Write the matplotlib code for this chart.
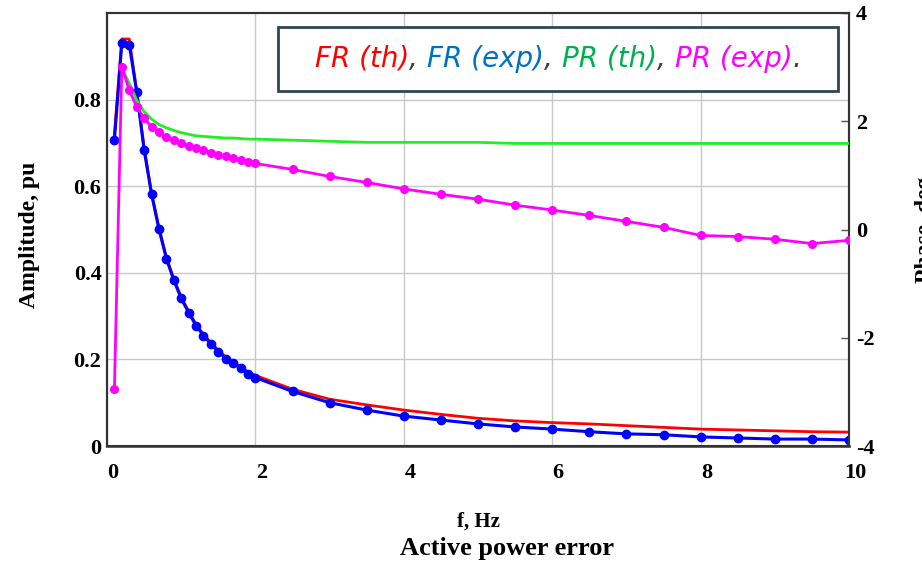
import numpy as np
import matplotlib
matplotlib.use('Agg')
import matplotlib.pyplot as plt
from matplotlib.patches import Rectangle
from matplotlib.offsetbox import TextArea, HPacker, AnchoredOffsetbox
from matplotlib.transforms import ScaledTranslation

# frequencies, Hz
f = [0.1, 0.2, 0.3, 0.4, 0.5, 0.6, 0.7, 0.8, 0.9, 1.0,
     1.1, 1.2, 1.3, 1.4, 1.5, 1.6, 1.7, 1.8, 1.9, 2.0,
     2.5, 3.0, 3.5, 4.0, 4.5, 5.0, 5.5, 6.0, 6.5, 7.0,
     7.5, 8.0, 8.5, 9.0, 9.5, 10.0]

# FR (th) - amplitude, theory
fr_th = [0.72, 0.94, 0.94, 0.82, 0.69, 0.585, 0.504, 0.436, 0.386, 0.344,
         0.311, 0.281, 0.258, 0.239, 0.221, 0.206, 0.194, 0.183, 0.171, 0.163,
         0.131, 0.108, 0.095, 0.083, 0.073, 0.064, 0.058, 0.054, 0.051, 0.047,
         0.043, 0.039, 0.037, 0.035, 0.033, 0.032]

# FR (exp) - amplitude, experiment
fr_exp = [0.707, 0.931, 0.927, 0.818, 0.684, 0.582, 0.501, 0.433, 0.383, 0.341,
          0.308, 0.278, 0.255, 0.236, 0.218, 0.202, 0.191, 0.180, 0.166, 0.158,
          0.126, 0.100, 0.083, 0.069, 0.060, 0.051, 0.044, 0.039, 0.033, 0.028,
          0.026, 0.021, 0.0185, 0.016, 0.016, 0.014]

# PR (th) - phase, theory (starts at 0.2 Hz)
f_pr_th = f[1:]
pr_th = [2.98, 2.70, 2.39, 2.18, 2.04, 1.94, 1.88, 1.83, 1.79,
         1.76, 1.73, 1.72, 1.71, 1.70, 1.69, 1.69, 1.68, 1.67, 1.67,
         1.65, 1.63, 1.61, 1.61, 1.61, 1.61, 1.59, 1.59, 1.59, 1.59,
         1.59, 1.59, 1.59, 1.59, 1.59, 1.59]

# PR (exp) - phase, experiment
pr_exp = [-2.94, 3.01, 2.57, 2.27, 2.06, 1.90, 1.80, 1.70, 1.65, 1.59,
          1.54, 1.50, 1.46, 1.42, 1.38, 1.35, 1.32, 1.28, 1.25, 1.22,
          1.11, 0.98, 0.87, 0.75, 0.65, 0.56, 0.45, 0.36, 0.26, 0.15,
          0.04, -0.11, -0.13, -0.18, -0.26, -0.20]

amp_ticks = [0, 0.2, 0.4, 0.6, 0.8]
amp_labels = ['0', '0.2', '0.4', '0.6', '0.8']
f_ticks = [0, 2, 4, 6, 8, 10]
ph_ticks = [4, 2, 0, -2, -4]

plt.rcParams['font.family'] = 'Liberation Serif'
plt.rcParams['font.weight'] = 'bold'

fig = plt.figure(figsize=(9.22, 5.64), dpi=100)
ax = fig.add_axes([107/922, 1 - 446/564, (849 - 107)/922, (446 - 13)/564])
ax2 = ax.twinx()

ax.plot(f, fr_th, color='#ff0000', lw=2.0, zorder=3)
ax.plot(f, fr_exp, color='#0000ff', lw=2.2, marker='o', ms=6, zorder=4)
ax2.plot(f_pr_th, pr_th, color='#22ee22', lw=2.0, zorder=3)
ax2.plot(f, pr_exp, color='#ff00ff', lw=2.0, marker='o', ms=5.5, zorder=4)

ax.set_xlim(0, 10)
ax.set_ylim(0, 1.0)
ax2.set_ylim(-4, 4)

ax.set_xticks(f_ticks)
ax.set_xticklabels([str(t) for t in f_ticks])
ax.set_yticks(amp_ticks)
ax.set_yticklabels(amp_labels)
ax2.set_yticks(ph_ticks)
ax2.set_yticklabels([str(t) for t in ph_ticks])

ax.grid(True, color='#c8c8c8', lw=1.0)
ax.set_axisbelow(True)
ax.tick_params(axis='both', length=0, labelsize=16)
ax.tick_params(axis='x', pad=12)
ax.tick_params(axis='y', pad=4)
ax2.tick_params(axis='y', direction='in', length=6, width=1, color='#555555',
                labelsize=16, pad=5)

dx = ScaledTranslation(6/100, 0, fig.dpi_scale_trans)
for lbl in ax.get_xticklabels():
    lbl.set_transform(lbl.get_transform() + dx)

for a in (ax, ax2):
    for s in a.spines.values():
        s.set_color('#333333')
        s.set_linewidth(1.5)
ax.spines['bottom'].set_color('#555555')
ax.spines['bottom'].set_linewidth(2)

fig.text(30/922, 1 - 235/564, 'Amplitude, pu', rotation=90, ha='center', va='center', fontsize=17)
fig.text(926/922, 1 - 230/564, 'Phase, deg', rotation=90, ha='center', va='center', fontsize=17)
fig.text(478/922, 1 - 522/564, 'f, Hz', ha='center', va='center', fontsize=15)
fig.text(507/922, 1 - 548/564, 'Active power error', ha='center', va='center', fontsize=19)

# legend-like caption box with coloured text
box = Rectangle((278/922, 1 - 91/564), 560/922, 64/564, transform=fig.transFigure,
                facecolor='white', edgecolor='#2e4753', lw=2, zorder=10)
fig.patches.append(box)

parts = [('FR (th)', '#ff0000'), (', ', '#404040'), ('FR (exp)', '#0070c0'), (', ', '#404040'),
         ('PR (th)', '#00b050'), (', ', '#404040'), ('PR (exp)', '#ff00ff'), ('.', '#404040')]
areas = [TextArea(t, textprops=dict(color=c, fontsize=20, family='DejaVu Sans',
                                    style='oblique', weight='normal')) for t, c in parts]
pack = HPacker(children=areas, align='baseline', pad=0, sep=0)
anch = AnchoredOffsetbox(loc='center', child=pack, frameon=False, pad=0, borderpad=0,
                         bbox_to_anchor=(558/922, 1 - 59/564), bbox_transform=fig.transFigure)
anch.set_zorder(11)
fig.add_artist(anch)

fig.savefig('out.png', dpi=100)
